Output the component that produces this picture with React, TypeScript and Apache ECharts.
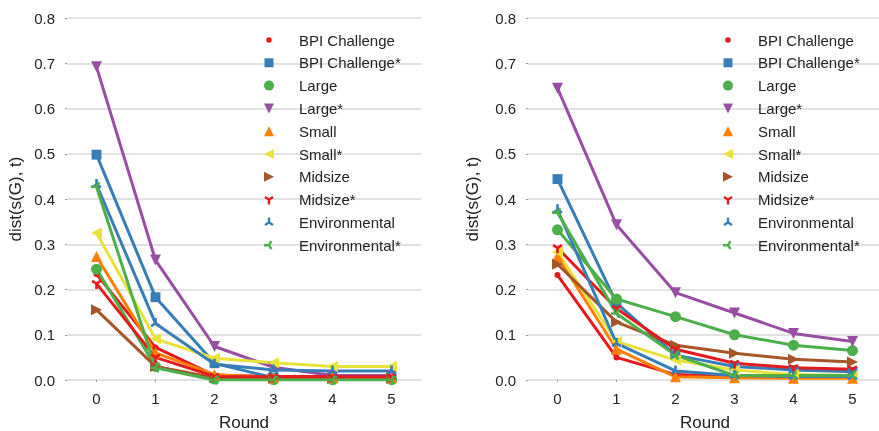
import React, { useEffect, useRef } from 'react';
import * as echarts from 'echarts';

const rounds = ['0', '1', '2', '3', '4', '5'];
const yTicks = [0, 0.1, 0.2, 0.3, 0.4, 0.5, 0.6, 0.7, 0.8];
const seriesNames = [
  'BPI Challenge', 'BPI Challenge*', 'Large', 'Large*', 'Small',
  'Small*', 'Midsize', 'Midsize*', 'Environmental', 'Environmental*',
];

// Left panel values per series
const leftBpi = [0.234, 0.072, 0.010, 0.008, 0.008, 0.008];
const leftBpiStar = [0.498, 0.183, 0.037, 0.005, 0.004, 0.004];
const leftLarge = [0.245, 0.030, 0.002, 0.001, 0.001, 0.001];
const leftLargeStar = [0.692, 0.265, 0.074, 0.028, 0.010, 0.010];
const leftSmall = [0.273, 0.060, 0.012, 0.005, 0.005, 0.005];
const leftSmallStar = [0.325, 0.091, 0.048, 0.038, 0.030, 0.030];
const leftMidsize = [0.155, 0.030, 0.005, 0.004, 0.004, 0.004];
const leftMidsizeStar = [0.213, 0.050, 0.008, 0.007, 0.007, 0.007];
const leftEnv = [0.432, 0.125, 0.035, 0.022, 0.020, 0.020];
const leftEnvStar = [0.427, 0.027, 0.000, 0.000, 0.000, 0.000];

// Right panel values per series
const rightBpi = [0.232, 0.050, 0.012, 0.007, 0.006, 0.006];
const rightBpiStar = [0.444, 0.170, 0.055, 0.030, 0.022, 0.018];
const rightLarge = [0.332, 0.179, 0.140, 0.100, 0.077, 0.065];
const rightLargeStar = [0.645, 0.343, 0.193, 0.148, 0.103, 0.085];
const rightSmall = [0.273, 0.068, 0.007, 0.005, 0.004, 0.004];
const rightSmallStar = [0.283, 0.085, 0.044, 0.022, 0.012, 0.010];
const rightMidsize = [0.256, 0.128, 0.077, 0.059, 0.046, 0.040];
const rightMidsizeStar = [0.292, 0.158, 0.068, 0.037, 0.027, 0.024];
const rightEnv = [0.376, 0.081, 0.020, 0.010, 0.008, 0.008];
const rightEnvStar = [0.370, 0.147, 0.055, 0.010, 0.010, 0.010];

const leftData = [leftBpi, leftBpiStar, leftLarge, leftLargeStar, leftSmall, leftSmallStar, leftMidsize, leftMidsizeStar, leftEnv, leftEnvStar];
const rightData = [rightBpi, rightBpiStar, rightLarge, rightLargeStar, rightSmall, rightSmallStar, rightMidsize, rightMidsizeStar, rightEnv, rightEnvStar];

const colors = ['#e41a1c', '#377eb8', '#4daf4a', '#984ea3', '#ff7f00', '#e8e23a', '#a65628', '#e41a1c', '#377eb8', '#4daf4a'];

const FONT = '"Liberation Sans", Arial, sans-serif';
const TEXT = '#222222';

function f(n: number) { return (Math.round(n * 1000) / 1000).toString(); }

function triPath(arms: number[][], t: number): string {
  let d = '';
  for (const [dx, dy] of arms) {
    const L = Math.hypot(dx, dy);
    const ux = dx / L, uy = dy / L;
    const nx = -uy * t, ny = ux * t;
    const bx = -ux * t, by = -uy * t;
    d += `M${f(bx + nx)},${f(by + ny)}L${f(dx + nx)},${f(dy + ny)}L${f(dx - nx)},${f(dy - ny)}L${f(bx - nx)},${f(by - ny)}Z`;
  }
  return d;
}

const PAD = 'path://M-1,-1M1,1';
const circle = (r: number) => `M${-r},0A${r},${r} 0 1,1 ${r},0A${r},${r} 0 1,1 ${-r},0Z`;
const symbols = [
  PAD + circle(0.55),
  PAD + 'M-0.9,-0.9L0.9,-0.9L0.9,0.9L-0.9,0.9Z',
  PAD + circle(1),
  PAD + 'M-1,-1L1,-1L0,1Z',
  PAD + 'M0,-1L1,1L-1,1Z',
  PAD + 'M-1,0L1,-1L1,1Z',
  PAD + 'M-1,-1L1,0L-1,1Z',
  PAD + triPath([[0, 1], [0.8, -0.5], [-0.8, -0.5]], 0.24),
  PAD + triPath([[0, -1], [0.8, 0.5], [-0.8, 0.5]], 0.24),
  PAD + triPath([[-1, 0], [0.5, 0.8], [0.5, -0.8]], 0.24),
];

function makeX(gridIndex: number) {
  return {
    type: 'category', gridIndex, data: rounds, boundaryGap: true,
    name: 'Round', nameLocation: 'middle', nameGap: 34,
    nameTextStyle: { fontSize: 17, color: TEXT, fontFamily: FONT },
    axisLine: { show: false },
    axisTick: { show: true, alignWithLabel: true, length: 2, lineStyle: { color: '#999' } },
    axisLabel: { fontSize: 15, color: TEXT, fontFamily: FONT, margin: 11 },
    splitLine: { show: false },
  };
}

function makeY(gridIndex: number, nameGap: number) {
  return {
    type: 'value', gridIndex, min: 0, max: yTicks[yTicks.length - 1], interval: 0.1,
    name: 'dist(s(G), t)', nameLocation: 'middle', nameGap,
    nameTextStyle: { fontSize: 17, color: TEXT, fontFamily: FONT },
    axisLine: { show: false },
    axisTick: { show: true, length: 2, lineStyle: { color: '#999' } },
    axisLabel: { fontSize: 15, color: TEXT, fontFamily: FONT, margin: 12, formatter: (v: number) => v.toFixed(1) },
    splitLine: { show: true, lineStyle: { color: '#d9d9d9', width: 1.6 } },
  };
}

function makeLegend(left: number) {
  return {
    orient: 'vertical', left, top: 27, padding: 5,
    itemWidth: 50, itemHeight: 10, itemGap: 6.8,
    selectedMode: false,
    textStyle: { fontSize: 15, lineHeight: 16, color: TEXT, fontFamily: FONT },
    data: seriesNames.map((name, i) => ({ name, icon: symbols[i] })),
  };
}

export default function App() {
  const ref = useRef<HTMLDivElement>(null);
  useEffect(() => {
    if (!ref.current) return;
    const chart = echarts.init(ref.current, undefined, { renderer: 'svg' });
    const series: any[] = [];
    [leftData, rightData].forEach((panel, p) => {
      panel.forEach((vals, i) => {
        series.push({
          name: seriesNames[i], type: 'line', xAxisIndex: p, yAxisIndex: p,
          data: vals, symbol: symbols[i], symbolSize: 11, symbolKeepAspect: true,
          showAllSymbol: true,
          lineStyle: { color: colors[i], width: 3 },
          itemStyle: { color: colors[i] },
          emphasis: { disabled: true },
        });
      });
    });
    chart.setOption({
      animation: false,
      textStyle: { fontFamily: FONT },
      grid: [
        { left: 67, top: 18, width: 354, height: 362, outerBoundsMode: 'none', containLabel: false },
        { left: 528, top: 18, width: 354, height: 362, outerBoundsMode: 'none', containLabel: false },
      ],
      xAxis: [makeX(0), makeX(1)],
      yAxis: [makeY(0, 43.5), makeY(1, 47.5)],
      legend: [makeLegend(259), makeLegend(718)],
      series,
    });
    return () => chart.dispose();
  }, []);
  return <div ref={ref} style={{ position: 'fixed', left: 0, top: 0, width: 879, height: 431 }} />;
}
